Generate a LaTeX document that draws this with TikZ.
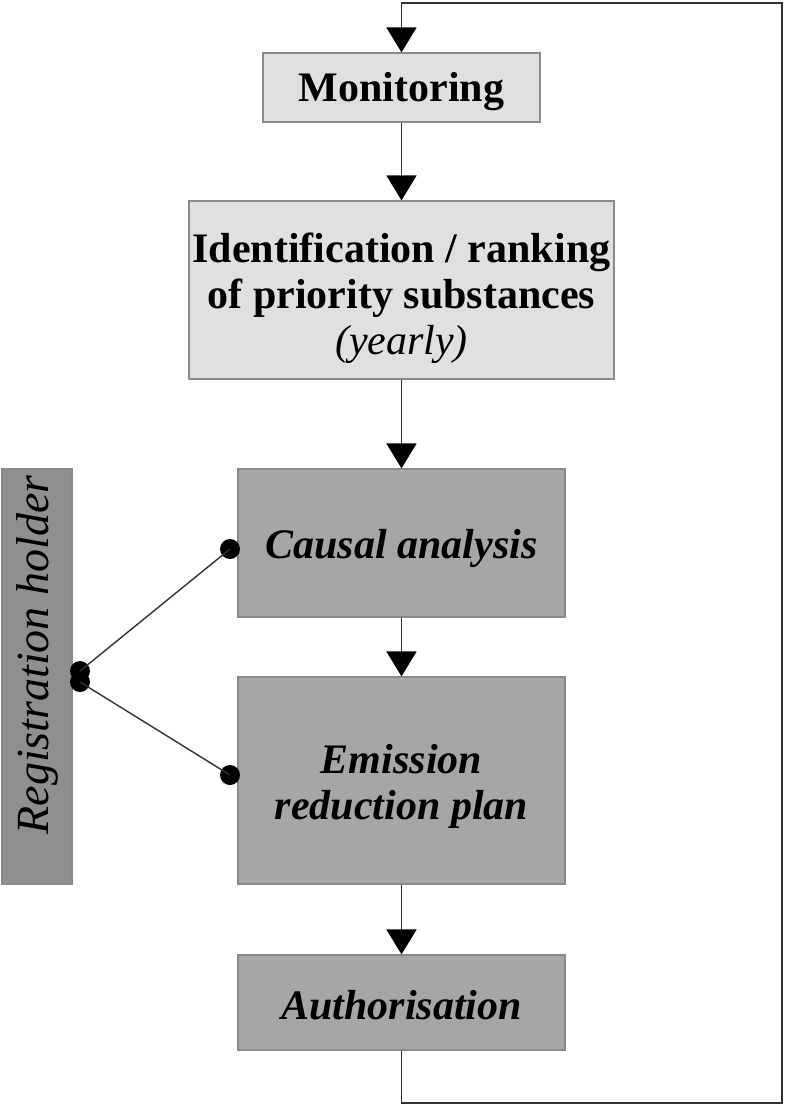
\documentclass[tikz,border=0pt]{standalone}
\usepackage{fontspec}
\setmainfont{Liberation Serif}
\usetikzlibrary{arrows.meta}
\definecolor{lightbox}{HTML}{E0E0E0}
\definecolor{darkbox}{HTML}{A6A6A6}
\definecolor{regbox}{HTML}{8F8F8F}
\definecolor{boxline}{HTML}{8A8A8A}
\definecolor{conline}{HTML}{333333}
\tikzset{
  lbox/.style={draw=boxline, line width=1.2pt, fill=lightbox, inner sep=0pt},
  dbox/.style={draw=boxline, line width=1.2pt, fill=darkbox, inner sep=0pt},
  bigtxt/.style={font=\fontsize{42}{46}\selectfont, align=center, inner sep=0pt},
  flow/.style={draw=conline, line width=1.6pt, -{Triangle[length=25pt,width=30pt,color=black,fill=black]}},
  plainline/.style={draw=conline, line width=1.4pt},
  blob/.style={circle, fill=black, inner sep=0pt, minimum size=20pt},
}
\begin{document}
\begin{tikzpicture}[x=1pt,y=-1pt]
\useasboundingbox (0,0) rectangle (786,1105);
\node[lbox, minimum width=277pt, minimum height=69pt] (mon) at (401.5,87.5) {};
\node[bigtxt] (montxt) at (401.5,92) {\bfseries Monitoring};
\node[lbox, minimum width=425pt, minimum height=178pt] (ident) at (401.5,290) {};
\node[bigtxt] (identtxt) at (401.5,298)
  {\bfseries Identification / ranking\\ \bfseries of priority substances\\ \itshape (yearly)};
\node[dbox, minimum width=327pt, minimum height=148pt] (causal) at (401.5,543) {};
\node[bigtxt] (causaltxt) at (401.5,548) {\bfseries\itshape Causal analysis};
\node[dbox, minimum width=327pt, minimum height=207pt] (emis) at (401.5,780.5) {};
\node[bigtxt] (emistxt) at (401.5,786)
  {\bfseries\itshape Emission\\ \bfseries\itshape reduction plan};
\node[dbox, minimum width=327pt, minimum height=95pt] (auth) at (401.5,1002.5) {};
\node[bigtxt] (authtxt) at (401.5,1005) {\bfseries\itshape Authorisation};
\node[draw=boxline, line width=1.2pt, fill=regbox, minimum width=70pt, minimum height=415pt, inner sep=0pt] (reg) at (37,676.5) {};
\node[rotate=90, font=\fontsize{46}{50}\selectfont\itshape, inner sep=0pt] (regtxt) at (37,655) {Registration holder};

\coordinate (c1) at (401.5,1103);
\coordinate (c2) at (782,1103);
\coordinate (c3) at (782,3);
\coordinate (c4) at (401.5,3);
\draw[flow] (auth.south) -- (c1) -- (c2) -- (c3) -- (c4) -- (mon.north);
\draw[flow] (mon.south) -- (ident.north);
\draw[flow] (ident.south) -- (causal.north);
\draw[flow] (causal.south) -- (emis.north);
\draw[flow] (emis.south) -- (auth.north);

\node[blob] (dl1) at (80,671) {};
\node[blob] (dl2) at (80,682) {};
\node[blob] (dr1) at (230,549) {};
\node[blob] (dr2) at (230,775) {};
\draw[plainline] (dl1.center) -- (dr1.center);
\draw[plainline] (dl2.center) -- (dr2.center);
\end{tikzpicture}
\end{document}
